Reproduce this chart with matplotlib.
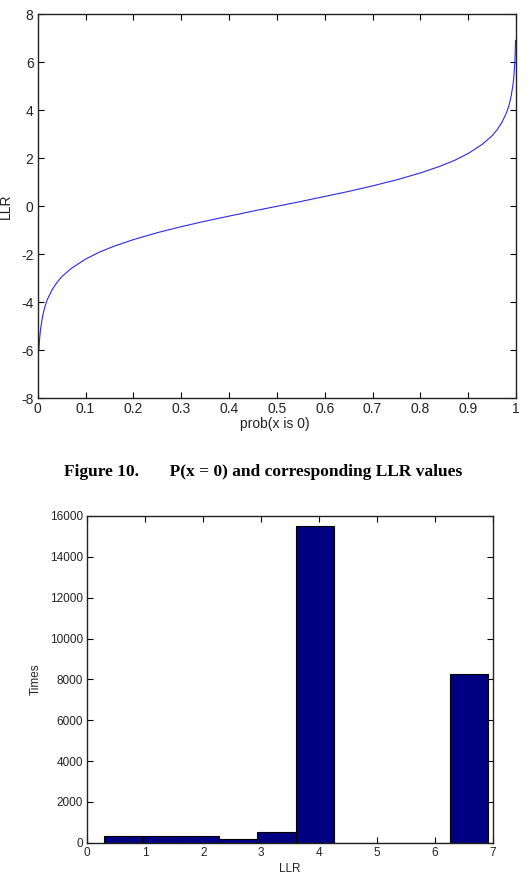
import matplotlib
matplotlib.use('Agg')
import matplotlib.pyplot as plt

# Top plot: probability that x is 0 vs. LLR
prob = [0.0, 0.0025, 0.004, 0.006, 0.01, 0.015, 0.02, 0.03, 0.04, 0.05, 0.07,
        0.1, 0.13, 0.16, 0.2, 0.25, 0.3, 0.35, 0.4, 0.45, 0.5, 0.55, 0.6,
        0.65, 0.7, 0.75, 0.8, 0.84, 0.87, 0.9, 0.93, 0.95, 0.96, 0.97, 0.98,
        0.985, 0.99, 0.994, 0.996, 0.998, 0.999]
llr = [-6.0, -5.99, -5.52, -5.11, -4.60, -4.18, -3.89, -3.48, -3.18, -2.94, -2.59,
       -2.20, -1.90, -1.66, -1.39, -1.10, -0.85, -0.62, -0.41, -0.20, 0.0, 0.20, 0.41,
       0.62, 0.85, 1.10, 1.39, 1.66, 1.90, 2.20, 2.59, 2.94, 3.18, 3.48, 3.89,
       4.18, 4.60, 5.11, 5.52, 6.21, 6.91]

# Bottom plot: histogram of LLR values
bin_edges = [0.28, 0.94, 1.61, 2.27, 2.93, 3.60, 4.26, 4.92, 5.59, 6.25, 6.91]
counts = [330, 330, 330, 190, 520, 15520, 0, 0, 0, 8240]

W, H = 531, 875
plt.rcParams['font.family'] = ['Liberation Sans', 'DejaVu Sans']
plt.rcParams['axes.unicode_minus'] = False
fig = plt.figure(figsize=(W / 100, H / 100), dpi=100)


def style(ax, size):
    ax.tick_params(direction='in', top=True, right=True, length=4,
                   width=0.8, labelsize=size, labelcolor='#222222', pad=3)
    for sp in ax.spines.values():
        sp.set_linewidth(1.0)
        sp.set_color('#222222')


# top axes
ax1 = fig.add_axes([37.7 / W, 1 - 398.3 / H, (516 - 37.7) / W, (398.3 - 14.3) / H])
ax1.plot(prob, llr, color='#2a2ae6', linewidth=0.8)
ax1.set_xlim(0, 1)
ax1.set_ylim(-8, 8)
ax1.set_xticks([0, 0.1, 0.2, 0.3, 0.4, 0.5, 0.6, 0.7, 0.8, 0.9, 1])
ax1.set_xticklabels(['0', '0.1', '0.2', '0.3', '0.4', '0.5', '0.6', '0.7', '0.8', '0.9', '1'])
ax1.set_yticks(range(-8, 9, 2))
style(ax1, 10)
ax1.set_xlabel('prob(x is 0)', fontsize=10, color='#222222')
ax1.set_ylabel('LLR', fontsize=10, color='#222222')
ax1.xaxis.set_label_coords(0.496, -0.049)
ax1.yaxis.set_label_coords(-0.051, 0.5)

# caption
fig.text(0.496, 1 - 472 / H, 'Figure 10.       P(x = 0) and corresponding LLR values',
         ha='center', va='center', fontsize=12.5, fontweight='bold',
         family=['Liberation Serif', 'DejaVu Serif'])

# bottom axes
ax2 = fig.add_axes([87.3 / W, 1 - 842.7 / H, (493 - 87.3) / W, (842.7 - 516) / H])
widths = [b - a for a, b in zip(bin_edges[:-1], bin_edges[1:])]
ax2.bar(bin_edges[:-1], counts, width=widths, align='edge',
        color='#000080', edgecolor='black', linewidth=0.8)
ax2.set_xlim(0, 7)
ax2.set_ylim(0, 16000)
ax2.set_xticks(range(0, 8))
ax2.set_yticks(range(0, 16001, 2000))
style(ax2, 8.5)
ax2.set_xlabel('LLR', fontsize=8.5, color='#222222')
ax2.set_ylabel('Times', fontsize=8.5, color='#222222')
ax2.xaxis.set_label_coords(0.5, -0.062)
ax2.yaxis.set_label_coords(-0.112, 0.5)

fig.savefig('out.png', dpi=100)
